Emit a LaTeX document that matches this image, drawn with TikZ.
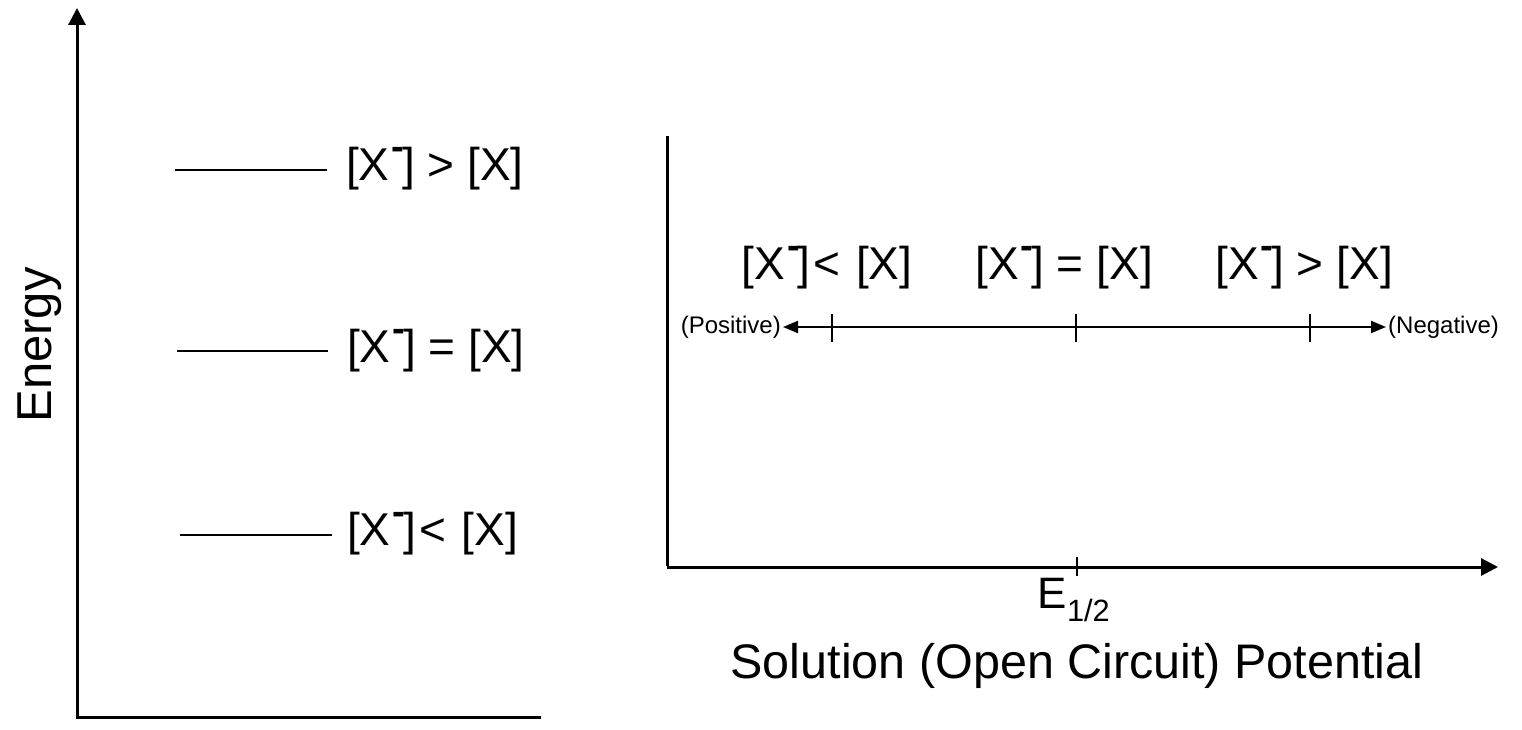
\documentclass[tikz,border=0pt]{standalone}
\usepackage{fontspec}
\setmainfont{Liberation Sans}
\usetikzlibrary{arrows.meta}
\newcommand{\Xm}{[X\kern2pt\raisebox{0.46em}{\fontsize{38}{38}\selectfont\bfseries -}\kern-2pt]}
\newcommand{\lt}{\kern3pt<\ \kern3pt}
\tikzset{
  axis/.style={line width=3pt},
  axisarrow/.style={line width=3pt,-{Triangle[length=17pt,width=17pt]}},
  level/.style={line width=2.6pt},
  lvltext/.style={font=\fontsize{46}{50}\selectfont, inner ysep=0pt, inner xsep=19pt, anchor=west},
  cond/.style={font=\fontsize{46}{50}\selectfont, inner sep=0pt},
  small/.style={font=\fontsize{24}{26}\selectfont, inner sep=2pt},
  tick/.style={line width=2pt},
  dbl/.style={line width=2pt,{Triangle[length=15pt,width=12pt]}-{Triangle[length=15pt,width=12pt]}}
}
\begin{document}
\begin{tikzpicture}[x=1pt,y=-1pt]
\useasboundingbox (0,0) rectangle (1522,730);
% left panel
\coordinate (lo) at (77,717);
\coordinate (ltop) at (77,8);
\coordinate (lright) at (541,717);
\draw[axisarrow] (lo) -- (ltop);
\draw[axis] ([xshift=-1.5pt]lo) -- (lright);
\node[font=\fontsize{49}{52}\selectfont, rotate=90, inner sep=0pt] (energy) at (40,345) {Energy};

\node[lvltext] (t1) at (327,169) {\Xm\ > [X]};
\node[lvltext] (t2) at (328,351) {\Xm\ = [X]};
\node[lvltext] (t3) at (328,534) {\Xm\lt[X]};
\coordinate (s1) at (175,170);
\coordinate (s2) at (177,351);
\coordinate (s3) at (180,535);
\draw[level] (s1) -- (t1.west |- s1);
\draw[level] (s2) -- (t2.west |- s2);
\draw[level] (s3) -- ([xshift=4pt]t3.west |- s3);

% right panel
\coordinate (ro) at (667,567);
\coordinate (rtop) at (667,136);
\coordinate (rend) at (1498,567);
\draw[axis] (rtop) -- ([yshift=1.5pt]ro);
\draw[axisarrow] (ro) -- (rend);
\coordinate (eA) at (1077,557);
\coordinate (eB) at (1077,576);
\draw[tick] (eA) -- (eB);
\node[font=\fontsize{44}{48}\selectfont, inner sep=0pt] (ehalf) at (1074,600) {E\textsubscript{1/2}};
\node[font=\fontsize{48.5}{52}\selectfont, inner sep=0pt] (sol) at (1077,666) {Solution (Open Circuit) Potential};

\coordinate (pl) at (783,327);
\coordinate (pr) at (1386,327);
\draw[dbl] (pl) -- (pr);
\node[small, anchor=east] (pos) at (pl) {(Positive)};
\node[small, anchor=west] (neg) at (pr) {(Negative)};
\foreach \x/\n in {832/a,1076/b,1310/c}{
  \coordinate (u\n) at (\x,314);
  \coordinate (d\n) at (\x,342);
  \draw[tick] (u\n) -- (d\n);
}
\node[cond] (c1) at (827,268) {\Xm\lt[X]};
\node[cond] (c2) at (1064,268) {\Xm\ = [X]};
\node[cond] (c3) at (1304,268) {\Xm\ > [X]};
\end{tikzpicture}
\end{document}
